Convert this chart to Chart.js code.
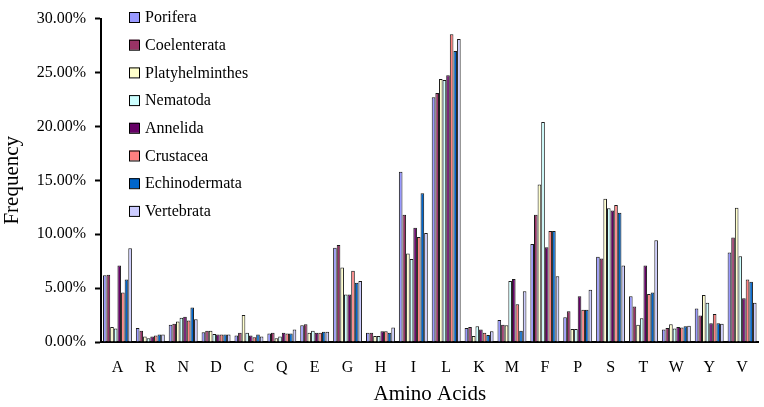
<!DOCTYPE html>
<html>
<head>
<meta charset="utf-8">
<script src="https://cdn.jsdelivr.net/npm/chart.js@4.4.0/dist/chart.umd.min.js"></script>
<style>
  html, body { margin:0; padding:0; background:#fff; }
  #wrap { width:764px; height:407px; }
</style>
</head>
<body>
<div id="wrap"><canvas id="chart" width="764" height="407"></canvas></div>
<script>
/* ---------------------------
   Data (frequency in %)
   --------------------------- */
const aminoAcids = ['A','R','N','D','C','Q','E','G','H','I','L','K','M','F','P','S','T','W','Y','V'];

const porifera       = [6.2, 1.3, 1.6, 0.9, 0.6, 0.8, 1.55, 8.75, 0.85, 15.8, 22.7, 1.3, 2.05, 9.1, 2.3, 7.9, 4.25, 1.15, 3.1, 8.3];
const coelenterata   = [6.25, 1.05, 1.7, 1.05, 0.85, 0.85, 1.65, 9.0, 0.85, 11.8, 23.1, 1.4, 1.6, 11.8, 2.85, 7.75, 3.3, 1.3, 2.45, 9.7];
const platyhelminth  = [1.4, 0.5, 1.9, 1.05, 2.5, 0.35, 0.85, 6.9, 0.55, 8.2, 24.4, 0.55, 1.55, 14.6, 1.2, 13.3, 1.6, 1.65, 4.35, 12.45];
const nematoda       = [1.25, 0.35, 2.25, 0.75, 0.85, 0.5, 1.05, 4.4, 0.55, 7.7, 24.3, 1.45, 5.65, 20.4, 1.2, 12.4, 2.2, 1.25, 3.65, 7.95];
const annelida       = [7.1, 0.5, 2.35, 0.7, 0.6, 0.85, 0.85, 4.4, 1.0, 10.6, 24.75, 1.15, 5.85, 8.8, 4.25, 12.2, 7.1, 1.4, 1.75, 4.05];
const crustacea      = [4.6, 0.6, 2.0, 0.7, 0.45, 0.8, 0.85, 6.6, 1.0, 9.75, 28.55, 0.85, 3.5, 10.3, 3.0, 12.7, 4.45, 1.35, 2.6, 5.8];
const echinodermata  = [5.8, 0.7, 3.2, 0.7, 0.7, 0.8, 0.95, 5.5, 0.85, 13.8, 27.0, 0.65, 1.05, 10.3, 3.0, 12.0, 4.6, 1.45, 1.75, 5.6];
const vertebrata     = [8.7, 0.7, 2.1, 0.7, 0.5, 1.15, 0.95, 5.65, 1.35, 10.1, 28.1, 1.0, 4.7, 6.1, 4.85, 7.1, 9.45, 1.5, 1.7, 3.65];

const seriesNames  = ['Porifera','Coelenterata','Platyhelminthes','Nematoda','Annelida','Crustacea','Echinodermata','Vertebrata'];
const seriesValues = [porifera, coelenterata, platyhelminth, nematoda, annelida, crustacea, echinodermata, vertebrata];
const seriesColors = ['#9999FF','#993366','#FFFFCC','#CCFFFF','#660066','#FF8080','#0066CC','#CCCCFF'];

const yTicks = [0, 5, 10, 15, 20, 25, 30];

const FONT = "'Liberation Serif', 'Times New Roman', serif";

/* ---------------------------
   Legend drawn inside plot area (top-left)
   --------------------------- */
const insideLegend = {
  id: 'insideLegend',
  afterDraw(chart) {
    const ctx = chart.ctx;
    const x0 = chart.chartArea.left + 28;
    const y0 = 12;
    const step = 27.7;
    ctx.save();
    ctx.font = '16px ' + FONT;
    ctx.textBaseline = 'middle';
    chart.data.datasets.forEach((ds, i) => {
      const y = y0 + i * step;
      ctx.fillStyle = ds.backgroundColor;
      ctx.fillRect(x0, y, 10, 10);
      ctx.strokeStyle = '#000';
      ctx.lineWidth = 1;
      ctx.strokeRect(x0 + 0.5, y + 0.5, 10, 10);
      ctx.fillStyle = '#000';
      ctx.fillText(ds.label, x0 + 16, y + 6);
    });
    ctx.restore();
  }
};

/* ---------------------------
   Chart
   --------------------------- */
const ctx = document.getElementById('chart').getContext('2d');
const chart = new Chart(ctx, {
  type: 'bar',
  data: {
    labels: aminoAcids,
    datasets: seriesNames.map((name, i) => ({
      label: name,
      data: seriesValues[i],
      backgroundColor: seriesColors[i],
      borderColor: '#1a1a1a',
      borderWidth: 1,
      categoryPercentage: 0.88,
      barPercentage: 1.0
    }))
  },
  options: {
    responsive: false,
    animation: false,
    layout: { padding: { left: 0, right: 5, top: 8, bottom: 0 } },
    plugins: {
      legend: { display: false },
      tooltip: { enabled: false }
    },
    scales: {
      x: {
        grid: { display: false, drawTicks: false },
        border: { display: true, color: '#000', width: 2 },
        ticks: { color: '#000', font: { family: FONT, size: 16 }, padding: 16 },
        title: { display: true, text: 'Amino Acids', color: '#000', font: { family: FONT, size: 21 }, padding: { top: 0, bottom: 0 } },
        afterFit: s => { s.height = 65; }
      },
      y: {
        min: 0,
        max: 30,
        afterBuildTicks: s => { s.ticks = yTicks.map(v => ({ value: v })); },
        grid: { drawOnChartArea: false, drawTicks: true, tickLength: 6, color: '#000', tickWidth: 2 },
        border: { display: true, color: '#000', width: 2 },
        ticks: {
          color: '#000',
          font: { family: FONT, size: 16 },
          padding: 9,
          callback: v => v.toFixed(2) + '%'
        },
        title: { display: true, text: 'Frequency', color: '#000', font: { family: FONT, size: 21 }, padding: { top: 0, bottom: 0 } },
        afterFit: s => { s.width = 101; }
      }
    }
  },
  plugins: [insideLegend]
});
</script>
</body>
</html>
